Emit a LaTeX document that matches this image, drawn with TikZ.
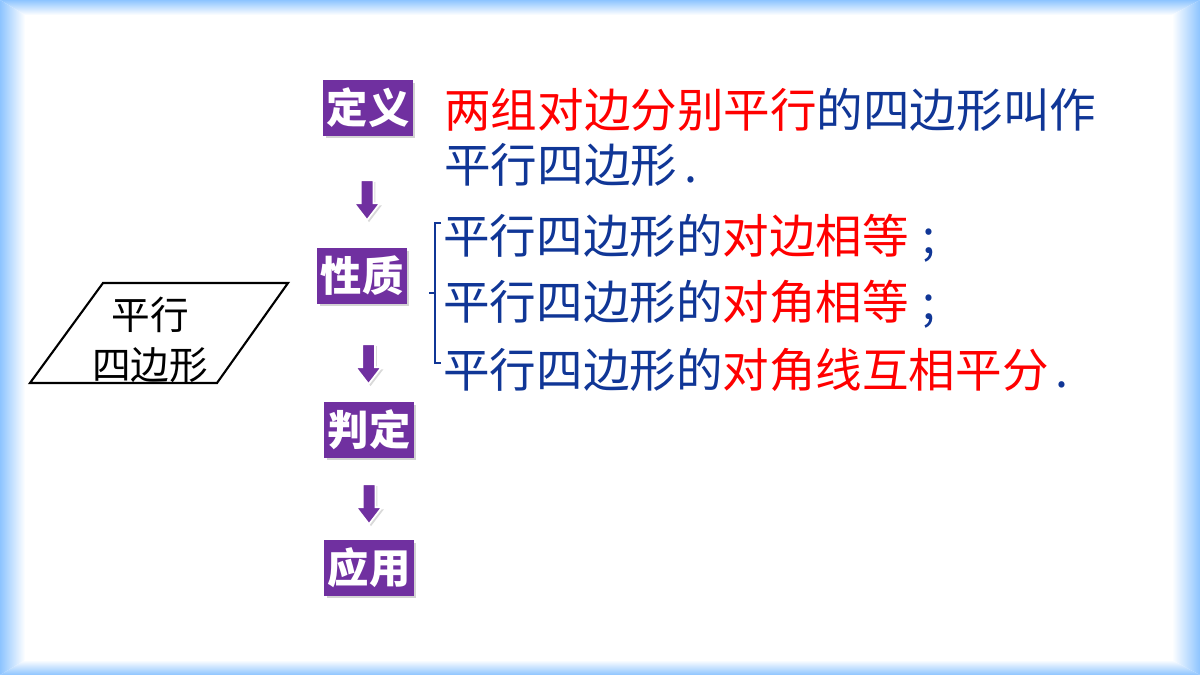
\documentclass[tikz,border=0pt]{standalone}
\usepackage{fontspec}
\setmainfont{Noto Sans CJK SC}
\newfontfamily\cjk{Noto Sans CJK SC}
\usetikzlibrary{shapes.arrows, shadows, calc}

\definecolor{frameblue}{RGB}{141,196,255}
\definecolor{boxpurple}{RGB}{112,48,160}
\definecolor{textblue}{RGB}{16,54,150}
\definecolor{keyred}{RGB}{255,0,0}

\tikzset{
	stagebox/.style={fill=boxpurple, text=white, inner sep=0pt,
		minimum width=1.8cm, minimum height=1.12cm,
		font=\cjk\bfseries\fontsize{23.5}{26}\selectfont,
		drop shadow={opacity=0.35, shadow xshift=0.05cm, shadow yshift=-0.05cm}},
	downarrow/.style={single arrow, shape border rotate=270, fill=boxpurple,
		draw=white, line width=1pt, inner sep=0.11cm,
		minimum height=0.8cm, minimum width=0.48cm,
		single arrow head extend=0.13cm, single arrow tip angle=75,
		drop shadow={opacity=0.3, shadow xshift=0.04cm, shadow yshift=-0.04cm}},
	factline/.style={anchor=west, inner sep=0pt, text=textblue,
		font=\cjk\fontsize{26.5}{30}\selectfont},
	bracket/.style={draw=textblue, line width=0.8pt},
}

\begin{document}
\begin{tikzpicture}[x=0.02cm, y=-0.02cm]
			\useasboundingbox (0,0) rectangle (1200,675);
			% frame
			\shade[top color=frameblue, bottom color=white] (0,0) -- (1200,0) -- (1172,15) -- (25,15) -- cycle;
			\shade[top color=white, bottom color=frameblue] (25,660) -- (1172,660) -- (1200,675) -- (0,675) -- cycle;
			\shade[left color=frameblue, right color=white] (0,0) -- (25,15) -- (25,660) -- (0,675) -- cycle;
			\shade[left color=white, right color=frameblue] (1172,15) -- (1200,0) -- (1200,675) -- (1172,660) -- cycle;

			% parallelogram
			\node (para) [align=center, font=\cjk\fontsize{22}{28.5}\selectfont] at (150,340) {平行\\四边形};
			\draw[line width=1.2pt, line join=miter] (30,383) -- (103,283) -- (288,283) -- (217,383) -- cycle;

			% stages
			\node (def) [stagebox] at (368,108) {定义};
			\node (prop) [stagebox] at (362,276) {性质};
			\node (judge) [stagebox] at (369,430) {判定};
			\node (use) [stagebox] at (369,568) {应用};

			\node (a1) [downarrow] at ($(def.south)!0.5!(prop.north)+(2,4)$) {};
			\node (a2) [downarrow] at ($(prop.south)!0.5!(judge.north)+(3,7)$) {};
			\node (a3) [downarrow] at ($(judge.south)!0.5!(use.north)+(0,1)$) {};

			% texts
			\node (d1) [factline] at (444,110) {{\color{keyred}两组对边分别平行}的四边形叫作};
			\node (d2) [factline] at (444,165) {平行四边形\hspace{0.15em}.};
			\node (p1) [factline] at (443,238) {平行四边形的{\color{keyred}对边相等}\hspace{0.3em};};
			\node (p2) [factline] at (443,304) {平行四边形的{\color{keyred}对角相等}\hspace{0.3em};};
			\node (p3) [factline] at (443,370) {平行四边形的{\color{keyred}对角线互相平分}\hspace{0.15em}.};

			\draw[bracket] (441,223) -- (435,223) -- (435,363) -- (441,363);
			\draw[bracket] (429,293) -- (435,293);
\end{tikzpicture}
\end{document}
